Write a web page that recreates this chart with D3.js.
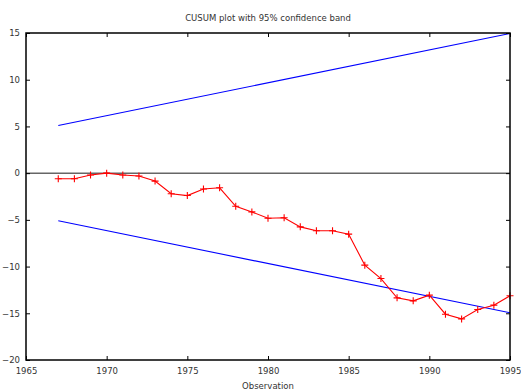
<!DOCTYPE html>
<html>
<head>
<meta charset="utf-8">
<script src="https://cdn.jsdelivr.net/npm/d3@7"></script>
<style>
  body { margin: 0; background: #fff; }
  text { font-family: "DejaVu Sans", sans-serif; fill: #333; }
</style>
</head>
<body>
<div class="chart"></div>
<script>
var svgWidth = 521;
var svgHeight = 390;

var margin = { top: 33, right: 11, bottom: 30, left: 26 };

var width = svgWidth - margin.left - margin.right;
var height = svgHeight - margin.top - margin.bottom;

// CUSUM values by year
var years = [1967, 1968, 1969, 1970, 1971, 1972, 1973, 1974, 1975, 1976,
  1977, 1978, 1979, 1980, 1981, 1982, 1983, 1984, 1985, 1986,
  1987, 1988, 1989, 1990, 1991, 1992, 1993, 1994, 1995];
var cusum = [-0.6, -0.6, -0.2, 0.0, -0.2, -0.3, -0.85, -2.2, -2.4, -1.7,
  -1.57, -3.55, -4.15, -4.83, -4.78, -5.75, -6.17, -6.17, -6.53, -9.85,
  -11.28, -13.35, -13.67, -13.06, -15.1, -15.6, -14.6, -14.13, -13.13];

// 95% band endpoints
var bandYears = [1967, 1995];
var bandUpper = [5.1, 14.95];
var bandLower = [-5.1, -14.95];

var xTicks = [1965, 1970, 1975, 1980, 1985, 1990, 1995];
var yTicks = [-20, -15, -10, -5, 0, 5, 10, 15];

var svg = d3.select(".chart")
  .append("svg")
  .attr("width", svgWidth)
  .attr("height", svgHeight);

var chart = svg.append("g")
  .attr("transform", "translate(" + margin.left + "," + margin.top + ")");

var x = d3.scaleLinear().domain([1965, 1995]).range([0, width]);
var y = d3.scaleLinear().domain([-20, 15]).range([height, 0]);

// zero line
chart.append("line")
  .attr("x1", 0).attr("x2", width)
  .attr("y1", y(0)).attr("y2", y(0))
  .attr("stroke", "#666").attr("stroke-width", 1.5);

// band lines
var bandLine = d3.line()
  .x(function(d, i) { return x(bandYears[i]); })
  .y(function(d) { return y(d); });

chart.append("path").datum(bandUpper)
  .attr("d", bandLine).attr("fill", "none")
  .attr("stroke", "#0000ff").attr("stroke-width", 1.1);
chart.append("path").datum(bandLower)
  .attr("d", bandLine).attr("fill", "none")
  .attr("stroke", "#0000ff").attr("stroke-width", 1.1);

// cusum line
var line = d3.line()
  .x(function(d, i) { return x(years[i]); })
  .y(function(d) { return y(d); });

chart.append("path").datum(cusum)
  .attr("d", line).attr("fill", "none")
  .attr("stroke", "#ff0000").attr("stroke-width", 1.1);

chart.selectAll(".pt")
  .data(cusum)
  .enter().append("path")
    .attr("class", "pt")
    .attr("d", function(d, i) {
      var px = x(years[i]), py = y(d), s = 3.5;
      return "M" + (px - s) + "," + py + "H" + (px + s) +
        "M" + px + "," + (py - s) + "V" + (py + s);
    })
    .attr("stroke", "#ff0000").attr("stroke-width", 1.1);

// axes: ticks inside, mirrored
var tickLen = 4;
var bottomAxis = d3.axisBottom(x).tickValues(xTicks).tickSize(-tickLen).tickPadding(8).tickFormat(d3.format("d"));
var topAxis = d3.axisTop(x).tickValues(xTicks).tickSize(-tickLen).tickFormat("");
var leftAxis = d3.axisLeft(y).tickValues(yTicks).tickSize(-tickLen).tickPadding(6);
var rightAxis = d3.axisRight(y).tickValues(yTicks).tickSize(-tickLen).tickFormat("");

function style(g) {
  g.select(".domain").remove();
  g.selectAll(".tick line").attr("stroke", "#000").attr("stroke-width", 1);
  g.selectAll("text").style("font-size", "8.5px").attr("fill", "#333");
}

chart.append("g").attr("transform", "translate(0," + height + ")").call(bottomAxis).call(style);
chart.append("g").call(topAxis).call(style);
chart.append("g").call(leftAxis).call(style);
chart.append("g").attr("transform", "translate(" + width + ",0)").call(rightAxis).call(style);

// frame
chart.append("rect")
  .attr("x", 0).attr("y", 0)
  .attr("width", width).attr("height", height)
  .attr("fill", "none").attr("stroke", "#000").attr("stroke-width", 1.5);

// title and label
svg.append("text")
  .attr("x", margin.left + width / 2).attr("y", 21)
  .attr("text-anchor", "middle")
  .style("font-size", "8.5px")
  .text("CUSUM plot with 95% confidence band");

svg.append("text")
  .attr("x", margin.left + width / 2).attr("y", 389)
  .attr("text-anchor", "middle")
  .style("font-size", "8.5px")
  .text("Observation");
</script>
</body>
</html>
